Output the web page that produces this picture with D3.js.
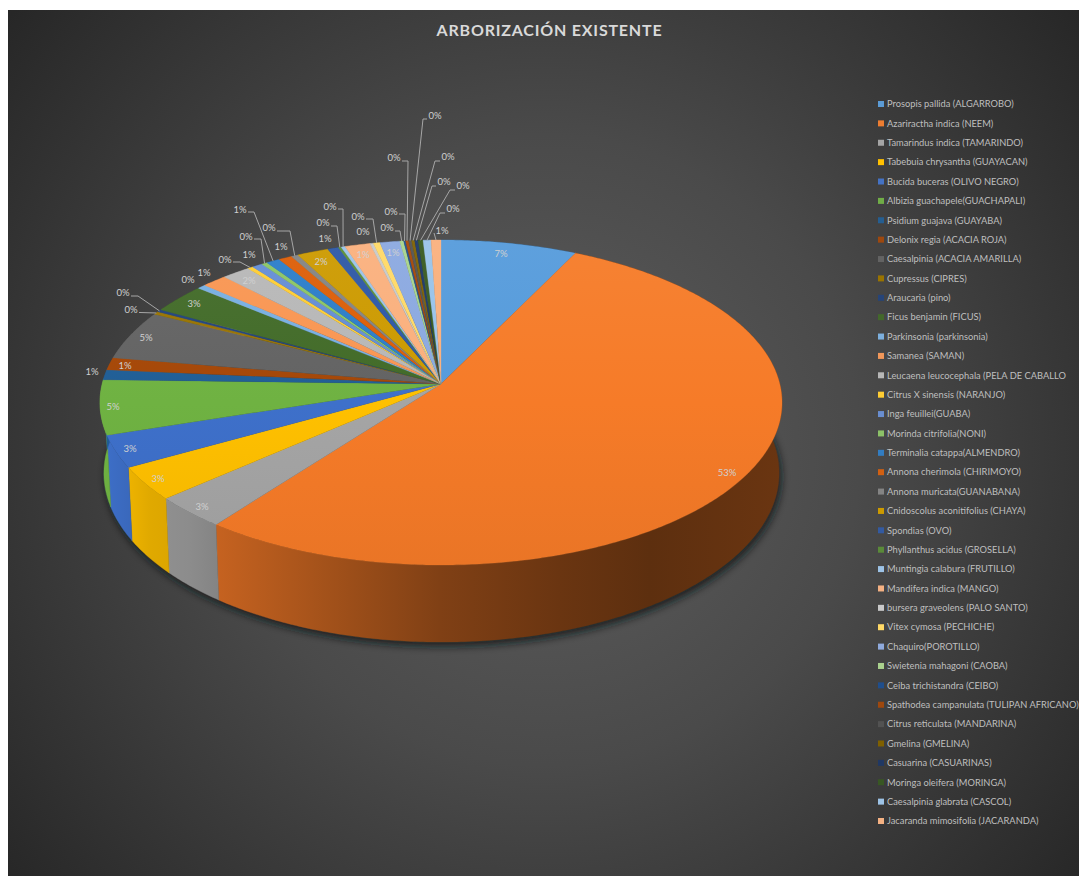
<!DOCTYPE html>
<html lang="es">
<head>
<meta charset="utf-8">
<title>Arborización existente</title>
<style>
  html, body { margin: 0; padding: 0; background: #fff; overflow: hidden; }
  svg { display: block; }
  text { font-family: Lato, "Open Sans", sans-serif; }
</style>
</head>
<body>
<svg id="chart" width="1079" height="876"></svg>
<script src="https://cdn.jsdelivr.net/npm/d3@7/dist/d3.min.js"></script>
<script>
const chartTitle = "ARBORIZACIÓN EXISTENTE";

const species = [
  "Prosopis pallida (ALGARROBO)", "Azariractha indica (NEEM)", "Tamarindus indica (TAMARINDO)",
  "Tabebuia chrysantha (GUAYACAN)", "Bucida buceras (OLIVO NEGRO)", "Albizia guachapele(GUACHAPALI)",
  "Psidium guajava (GUAYABA)", "Delonix regia (ACACIA ROJA)", "Caesalpinia (ACACIA AMARILLA)",
  "Cupressus (CIPRES)", "Araucaria (pino)", "Ficus benjamin (FICUS)",
  "Parkinsonia (parkinsonia)", "Samanea (SAMAN)", "Leucaena leucocephala (PELA DE CABALLO",
  "Citrus X sinensis (NARANJO)", "Inga feuillei(GUABA)", "Morinda citrifolia(NONI)",
  "Terminalia catappa(ALMENDRO)", "Annona cherimola (CHIRIMOYO)", "Annona muricata(GUANABANA)",
  "Cnidoscolus aconitifolius (CHAYA)", "Spondias (OVO)", "Phyllanthus acidus (GROSELLA)",
  "Muntingia calabura (FRUTILLO)", "Mandifera indica (MANGO)", "bursera graveolens (PALO SANTO)",
  "Vitex cymosa (PECHICHE)", "Chaquiro(POROTILLO)", "Swietenia mahagoni (CAOBA)",
  "Ceiba trichistandra (CEIBO)", "Spathodea campanulata (TULIPAN AFRICANO)", "Citrus reticulata (MANDARINA)",
  "Gmelina (GMELINA)", "Casuarina (CASUARINAS)", "Moringa oleifera (MORINGA)",
  "Caesalpinia glabrata (CASCOL)", "Jacaranda mimosifolia (JACARANDA)"
];

// Share of the inventory per species, in percent.
const shares = [
  7.2, 53.1, 3.2, 3.3, 3.2, 5.4, 1.0, 1.25, 4.9, 0.29, 0.25, 2.95, 0.45, 1.33, 1.51, 0.29, 0.56, 0.3, 0.72,
  0.71, 0.37, 1.67, 0.58, 0.15, 0.21, 1.34, 0.18, 0.35, 1.05, 0.2, 0.1, 0.16, 0.16, 0.16, 0.18, 0.26, 0.42, 0.52
];

const palette = [
  "#5B9BD5", "#ED7D31", "#A5A5A5", "#FFC000", "#4472C4", "#70AD47",
  "#255E91", "#9E480E", "#636363", "#997300", "#264478", "#43682B",
  "#7CAFDD", "#F1975A", "#B7B7B7", "#FFCD33", "#698ED0", "#8CC168",
  "#327DC2", "#D26012", "#848484", "#CC9A00", "#335AA1", "#5A8A39",
  "#9DC3E6", "#F4B183", "#C9C9C9", "#FFD966", "#8FAADC", "#A9D18E",
  "#1F4E8C", "#9E480E", "#525252", "#7F6000", "#203864", "#385723",
  "#9DC3E6", "#F4B183"
];

// Label anchor for each slice; `elbow` adds a leader line that bends there before reaching the rim.
const labelLayout = [
  {x:501,y:254},{x:727,y:473},{x:202,y:507},{x:158,y:479},{x:130,y:449},{x:113,y:407},
  {x:92,y:372},{x:125,y:366},{x:146,y:338},
  {x:131,y:310,elbow:[140,312.5]},{x:123,y:293,elbow:[138,296]},
  {x:194,y:304},{x:188,y:280},{x:204,y:273},{x:249,y:281},
  {x:225,y:260,elbow:[240,262]},{x:249,y:255},{x:246,y:237,elbow:[261,239]},
  {x:240,y:210,elbow:[254,212]},{x:281,y:247},{x:269,y:228,elbow:[290,231]},
  {x:321,y:262},{x:325,y:239},{x:323,y:223,elbow:[337,226]},{x:330,y:207,elbow:[343,209]},
  {x:363,y:255},{x:363,y:232},{x:358,y:217,elbow:[373,219]},{x:393,y:253},
  {x:387,y:228,elbow:[400,231]},{x:391,y:212,elbow:[405,214]},{x:394,y:158,elbow:[408,161]},
  {x:435,y:116,elbow:[423,119]},{x:448,y:157,elbow:[435,161]},{x:444,y:182,elbow:[432,186]},
  {x:463,y:186,elbow:[450,190]},{x:453,y:209,elbow:[440,213]},{x:442,y:231,elbow:[434,233]}
];

const W = 1079, H = 876;
const svg = d3.select("#chart");
const defs = svg.append("defs");

// Perspective disc: top face and bottom face share the same foreshortening.
const persp = 0.114;
const topFace = { cx: 441, cy: 384, rx: 338.8, ry: 160.4 };
const baseFace = { cx: 441.5, cy: 453.8, rx: 335.4, ry: 166.8 };

function project(theta, face) {
  const c = Math.sin(theta), s = -Math.cos(theta), w = 1 - persp * s;
  return [face.cx + face.rx * c / w, face.cy + face.ry * s / w];
}

function rim(a0, a1, face) {
  const n = Math.max(2, Math.ceil((a1 - a0) / 0.01));
  return d3.range(n + 1).map(i => project(a0 + (a1 - a0) * i / n, face));
}

const pathOf = d3.line();
const arcs = d3.pie().sort(null).value(d => d)(shares);
const total = d3.sum(shares);
const pct = d3.format(".0%");

// Panel background
const bg = defs.append("radialGradient").attr("id", "panel")
  .attr("gradientUnits", "userSpaceOnUse").attr("cx", 545).attr("cy", 450).attr("r", 700);
bg.append("stop").attr("offset", 0).attr("stop-color", "#5e5e5e");
bg.append("stop").attr("offset", 0.45).attr("stop-color", "#4a4a4a");
bg.append("stop").attr("offset", 1).attr("stop-color", "#262626");
svg.append("rect").attr("x", 8).attr("y", 10).attr("width", W - 8).attr("height", H - 10).attr("fill", "url(#panel)");

svg.append("text").attr("x", 549.5).attr("y", 36).attr("text-anchor", "middle")
  .attr("font-size", 16).attr("font-weight", 700).attr("letter-spacing", 0.8)
  .attr("fill", "#d9d9d9").text(chartTitle);

// Soft shadow beneath the disc
const blur = defs.append("filter").attr("id", "shadow").attr("x", "-10%").attr("y", "-10%").attr("width", "120%").attr("height", "130%");
blur.append("feGaussianBlur").attr("stdDeviation", 4);
svg.append("path")
  .attr("d", pathOf(rim(0, 2 * Math.PI, baseFace)) + "Z")
  .attr("transform", "translate(2,4)")
  .attr("fill", "#0c1418").attr("fill-opacity", 0.85).attr("filter", "url(#shadow)");

// Side wall shading runs left to right; the top faces get a gentle vertical sheen.
const wallShade = d3.scaleLinear()
  .domain([100, 150, 190, 218, 330, 440, 560, 650, 780])
  .range([1, 0.88, 0.85, 0.8, 0.66, 0.52, 0.43, 0.38, 0.43]);
const xStops = wallShade.domain();

palette.forEach((col, i) => {
  const vivid = d3.hsl(col);
  vivid.s = Math.min(1, vivid.s * 1.1);
  const base = vivid.formatRgb();

  const wall = defs.append("linearGradient").attr("id", "wall" + i)
    .attr("gradientUnits", "userSpaceOnUse").attr("x1", 100).attr("x2", 780).attr("y1", 0).attr("y2", 0);
  xStops.forEach(x => wall.append("stop")
    .attr("offset", (x - 100) / 680)
    .attr("stop-color", d3.interpolateRgb("#000", base)(wallShade(x))));

  const face = defs.append("linearGradient").attr("id", "face" + i)
    .attr("gradientUnits", "userSpaceOnUse").attr("x1", 0).attr("x2", 0).attr("y1", 240).attr("y2", 565);
  face.append("stop").attr("offset", 0).attr("stop-color", d3.interpolateRgb(base, "#fff")(0.05));
  face.append("stop").attr("offset", 0.5).attr("stop-color", base);
  face.append("stop").attr("offset", 1).attr("stop-color", d3.interpolateRgb(base, "#000")(0.05));
});

svg.append("g").selectAll("path").data(arcs).join("path")
  .attr("d", d => pathOf(rim(d.startAngle, d.endAngle, topFace)
      .concat(rim(d.startAngle, d.endAngle, baseFace).reverse())) + "Z")
  .attr("fill", d => `url(#wall${d.index})`)
  .attr("stroke", d => `url(#wall${d.index})`).attr("stroke-width", 0.4);

svg.append("g").selectAll("path").data(arcs).join("path")
  .attr("d", d => pathOf([[topFace.cx, topFace.cy]].concat(rim(d.startAngle, d.endAngle, topFace))) + "Z")
  .attr("fill", d => `url(#face${d.index})`)
  .attr("stroke", d => `url(#face${d.index})`).attr("stroke-width", 0.3);

// Leader lines run from the rim at each slice's mid angle to the label elbow.
svg.append("g").selectAll("path").data(arcs.filter(d => labelLayout[d.index].elbow)).join("path")
  .attr("fill", "none").attr("stroke", "#a6a6a6").attr("stroke-width", 1)
  .attr("d", d => {
    const l = labelLayout[d.index];
    const side = l.x < l.elbow[0] ? 1 : -1;
    const start = [l.x + side * 8, l.elbow[1]];
    return pathOf([start, l.elbow, project((d.startAngle + d.endAngle) / 2, topFace)]);
  });

svg.append("g").selectAll("text").data(arcs).join("text")
  .attr("x", d => labelLayout[d.index].x)
  .attr("y", d => labelLayout[d.index].y)
  .attr("dy", "0.35em").attr("text-anchor", "middle")
  .attr("font-size", 9.5).attr("fill", "#d0d0d0")
  .text(d => pct(d.value / total));

// Legend column
const legendY = d3.scalePoint().domain(species).range([104, 821]);
const legend = svg.append("g").selectAll("g").data(species).join("g")
  .attr("transform", d => `translate(878,${legendY(d)})`);
legend.append("rect").attr("x", 0).attr("y", -3).attr("width", 6).attr("height", 6)
  .attr("fill", (d, i) => palette[i]);
legend.append("text").attr("x", 9).attr("dy", "0.35em")
  .attr("font-size", 9.3).attr("fill", "#bfbfbf").text(d => d);
</script>
</body>
</html>
